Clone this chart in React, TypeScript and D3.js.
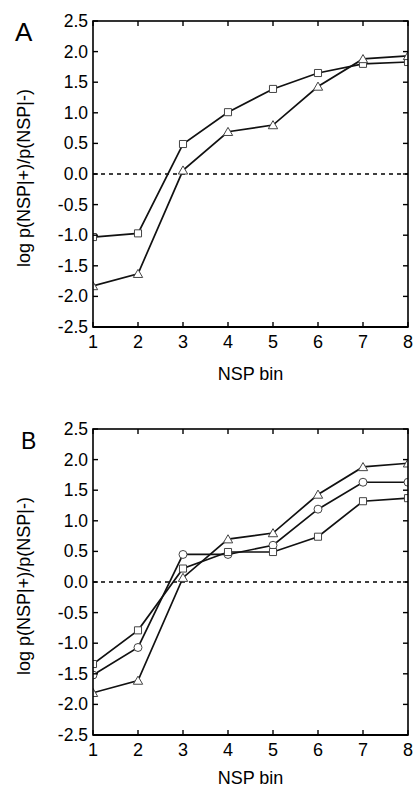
import React from 'react';
import * as d3 from 'd3';

const bins = [1, 2, 3, 4, 5, 6, 7, 8];
const yTicks = [-2.5, -2.0, -1.5, -1.0, -0.5, 0.0, 0.5, 1.0, 1.5, 2.0, 2.5];

// panel A
const aSquares = [-1.03, -0.97, 0.49, 1.01, 1.39, 1.65, 1.80, 1.83];
const aTriangles = [-1.83, -1.63, 0.06, 0.69, 0.80, 1.43, 1.88, 1.93];

// panel B
const bTriangles = [-1.81, -1.61, 0.07, 0.70, 0.80, 1.43, 1.88, 1.94];
const bCircles = [-1.52, -1.07, 0.45, 0.45, 0.60, 1.19, 1.63, 1.63];
const bSquares = [-1.34, -0.79, 0.22, 0.49, 0.49, 0.74, 1.32, 1.37];

const W = 414;
const H = 790;
const font = '"Liberation Sans", Arial, sans-serif';

type Series = { values: number[]; shape: 'square' | 'triangle' | 'circle' };

const symbolOf = {
  square: d3.symbol().type(d3.symbolSquare).size(50),
  triangle: d3.symbol().type(d3.symbolTriangle).size(38),
  circle: d3.symbol().type(d3.symbolCircle).size(50),
};

function Panel(props: {
  id: string;
  letter: string;
  letterX: number;
  letterSize: number;
  top: number;
  xLabelGap: number;
  series: Series[];
}) {
  const { id, letter, letterX, letterSize, top, xLabelGap, series } = props;
  const left = 93;
  const right = 408;
  const bottom = top + 306;
  const x = d3.scaleLinear().domain([1, 8]).range([left, right]);
  const y = d3.scaleLinear().domain([-2.5, 2.5]).range([bottom, top]);
  const line = d3.line<number>().x((d, i) => x(bins[i])).y((d) => y(d));
  const tl = 5;

  return (
    <g>
      <defs>
        <clipPath id={id}>
          <rect x={left} y={top} width={right - left} height={bottom - top} />
        </clipPath>
      </defs>
      <text x={letterX} y={top + 20} fontSize={letterSize} fontFamily={font}>{letter}</text>
      {/* zero line */}
      <line x1={left} x2={right} y1={y(0)} y2={y(0)} stroke="#000" strokeWidth={1.4} strokeDasharray="4,4" />
      <g clipPath={`url(#${id})`}>
        {series.map((s, k) => (
          <path key={'l' + k} d={line(s.values) || ''} fill="none" stroke="#111" strokeWidth={1.7} />
        ))}
        {series.map((s, k) =>
          s.values.map((v, i) => (
            <path
              key={k + '-' + i}
              d={symbolOf[s.shape]() || ''}
              transform={`translate(${x(bins[i])},${y(v) + (s.shape === 'triangle' ? 1 : 0)})`}
              fill="#fff"
              stroke="#444"
              strokeWidth={1}
            />
          ))
        )}
      </g>
      {/* frame */}
      <rect x={left} y={top} width={right - left} height={bottom - top} fill="none" stroke="#000" strokeWidth={1.6} />
      <line x1={left} x2={right} y1={bottom} y2={bottom} stroke="#000" strokeWidth={2.2} />
      {/* x ticks */}
      {bins.map((b) => (
        <g key={'x' + b}>
          <line x1={x(b)} x2={x(b)} y1={bottom} y2={bottom - tl} stroke="#000" strokeWidth={1.4} />
          <line x1={x(b)} x2={x(b)} y1={top} y2={top + tl} stroke="#000" strokeWidth={1.4} />
          <text x={x(b)} y={bottom + 21} textAnchor="middle" fontSize={18} fontFamily={font}>{b}</text>
        </g>
      ))}
      {/* y ticks */}
      {yTicks.map((t) => (
        <g key={'y' + t}>
          <line x1={left} x2={left + tl} y1={y(t)} y2={y(t)} stroke="#000" strokeWidth={1.4} />
          <line x1={right} x2={right - tl} y1={y(t)} y2={y(t)} stroke="#000" strokeWidth={1.4} />
          <text x={left - 5} y={y(t) + 6} textAnchor="end" fontSize={17.5} fontFamily={font}>{d3.format('.1f')(t).replace('−', '-')}</text>
        </g>
      ))}
      <text x={(left + right) / 2} y={bottom + xLabelGap} textAnchor="middle" fontSize={18} fontFamily={font}>NSP bin</text>
      <text
        transform={`translate(30,${(top + bottom) / 2 + 4}) rotate(-90)`}
        textAnchor="middle"
        fontSize={18}
        fontFamily={font}
      >
        log p(NSP|+)/p(NSP|-)
      </text>
    </g>
  );
}

export default function App() {
  return (
    <svg width={W} height={H} style={{ position: 'absolute', left: 0, top: 0, background: '#fff' }}>
      <rect width={W} height={H} fill="#fff" />
      <Panel
        id="clipA"
        letter="A"
        letterX={15}
        letterSize={26}
        top={21}
        xLabelGap={53}
        series={[
          { values: aSquares, shape: 'square' },
          { values: aTriangles, shape: 'triangle' },
        ]}
      />
      <Panel
        id="clipB"
        letter="B"
        letterX={21}
        letterSize={23}
        top={429}
        xLabelGap={49}
        series={[
          { values: bTriangles, shape: 'triangle' },
          { values: bCircles, shape: 'circle' },
          { values: bSquares, shape: 'square' },
        ]}
      />
    </svg>
  );
}
